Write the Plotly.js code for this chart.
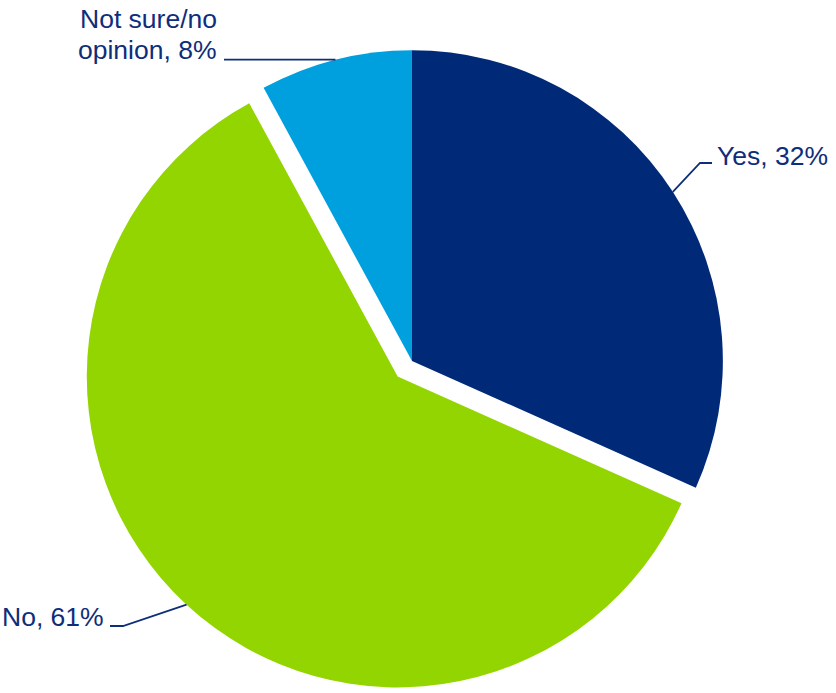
<!DOCTYPE html>
<html>
<head>
<meta charset="utf-8">
<script src="https://cdn.plot.ly/plotly-3.0.1.min.js"></script>
<style>html,body{margin:0;padding:0;background:#fff;}#chart{width:836px;height:693px;}</style>
</head>
<body>
<div id="chart"></div>
<script>
// ---- data ----
const labels = ['Yes', 'No', 'Not sure/no opinion'];
const values = [32, 61, 8];
const colors = ['#002A78', '#93D500', '#00A0DF'];
const pulls = [0, 0.068, 0];

// ---- layout constants ----
const W = 836, H = 693;
const textColor = '#0E2D7A';
const fontFam = '"Liberation Sans", Arial, sans-serif';
const domX = [79 / W, 745 / W];
const domY = [0, 664 / H];
const maxPull = Math.max(...pulls);
const boxPx = 664;
const R = boxPx / (2 + 2 * maxPull);
const CX = W * (domX[0] + domX[1]) / 2;
const CY = H * (1 - (domY[0] + domY[1]) / 2);

// geometry derived from the data
const total = values.reduce((a, b) => a + b, 0);
let cum = 0;
const edges = values.map((v, i) => {
  const a0 = cum / total * 2 * Math.PI;
  cum += v;
  const a1 = cum / total * 2 * Math.PI;
  const m = (a0 + a1) / 2;
  const ox = CX + pulls[i] * R * Math.sin(m);
  const oy = CY - pulls[i] * R * Math.cos(m);
  return {x: ox + R * Math.sin(m), y: oy - R * Math.cos(m)};
});

const px = x => x / W;
const py = y => 1 - y / H;
function pathOf(pts) {
  return 'M ' + pts.map(p => px(p[0]) + ',' + py(p[1])).join(' L ');
}

// leader line knees (layout)
const leaders = [
  [[edges[0].x, edges[0].y], [700, 163], [712, 163]],
  [[edges[1].x, edges[1].y], [123, 626], [110, 626]],
  [[edges[2].x, edges[2].y], [224, edges[2].y]]
];

const shapes = leaders.map(pts => ({
  type: 'path', xref: 'paper', yref: 'paper', path: pathOf(pts),
  line: {color: textColor, width: 1.8}, layer: 'above'
}));

const fnt = {family: fontFam, size: 26.5, color: textColor};
const annotations = [
  {text: labels[0] + ', ' + values[0] + '%', x: px(715), y: py(156), xanchor: 'left', yanchor: 'middle'},
  {text: labels[1] + ', ' + values[1] + '%', x: px(106), y: py(617), xanchor: 'right', yanchor: 'middle'},
  {text: 'Not sure/no', x: px(219), y: py(19), xanchor: 'right', yanchor: 'middle'},
  {text: 'opinion, ' + values[2] + '%', x: px(219), y: py(50), xanchor: 'right', yanchor: 'middle'}
].map(a => Object.assign({xref: 'paper', yref: 'paper', showarrow: false, font: fnt}, a));

const trace = {
  type: 'pie',
  labels: labels,
  values: values,
  marker: {colors: colors, line: {width: 0}},
  pull: pulls,
  sort: false,
  direction: 'clockwise',
  rotation: 0,
  textinfo: 'none',
  hoverinfo: 'label+value',
  domain: {x: domX, y: domY},
  showlegend: false
};

Plotly.newPlot('chart', [trace], {
  width: W, height: H,
  margin: {l: 0, r: 0, t: 0, b: 0},
  paper_bgcolor: '#ffffff',
  showlegend: false,
  shapes: shapes,
  annotations: annotations
}, {displayModeBar: false, staticPlot: true});
</script>
</body>
</html>
